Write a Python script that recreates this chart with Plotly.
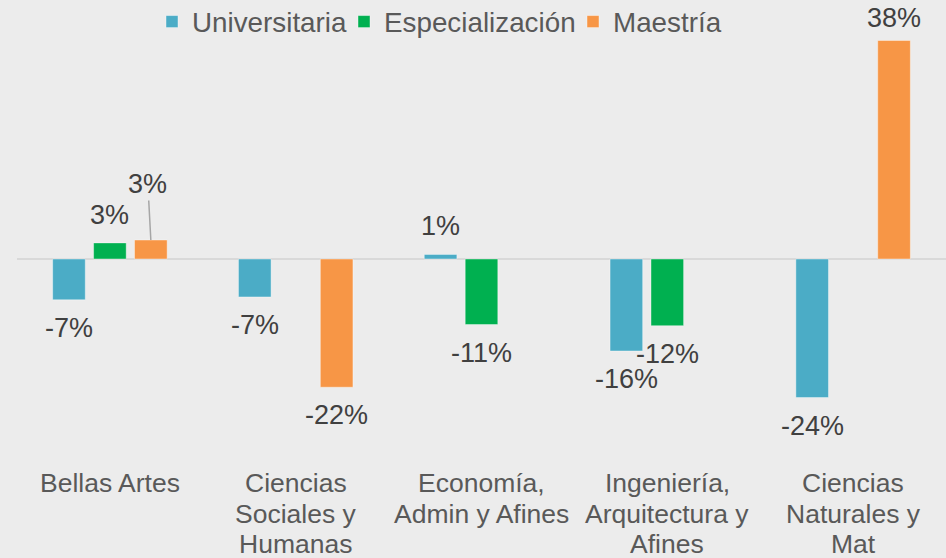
import plotly.graph_objects as go

categories = ["Bellas Artes", "Ciencias<br>Sociales y<br>Humanas", "Economía,<br>Admin y Afines",
              "Ingeniería,<br>Arquitectura y<br>Afines", "Ciencias<br>Naturales y<br>Mat"]
series_names = ["Universitaria", "Especialización", "Maestría"]
universitaria = [-7.1, -6.6, 0.8, -16.0, -24.1]
especializacion = [2.8, None, -11.4, -11.6, None]
maestria = [3.3, -22.3, None, None, 38.0]

series_values = [universitaria, especializacion, maestria]
colors = ["#4BACC6", "#00B050", "#F79646"]

FONT = "Liberation Sans, Arial, sans-serif"
BARGAP = 0.339
BARGROUPGAP = 0.203
slot = (1 - BARGAP) / len(series_names)
xs = list(range(len(categories)))

MARGIN_T, MARGIN_B = 10, 92
W, H = 946, 558

legend_keys = ["legend", "legend2", "legend3"]
legend_text_x = [193, 385, 614]  # px where each legend text begins
LEGEND_TEXT_OFFSET = 41

fig = go.Figure()
for name, vals, col, lk in zip(series_names, series_values, colors, legend_keys):
    fig.add_trace(go.Bar(x=xs, y=vals, name=name, legend=lk, hoverinfo="skip",
                         marker=dict(color=col, line=dict(width=1, color="rgba(255,255,255,0.4)"))))

# label placement overrides (series index, category index)
overrides = {
    (2, 0): dict(showarrow=True, ax=-3, ay=-56, arrowhead=0, arrowwidth=1.5, arrowcolor="#A6A6A6", standoff=0),
    (2, 4): dict(yshift=22),
}

annotations = []
for k, vals in enumerate(series_values):
    for i, v in enumerate(vals):
        if v is None:
            continue
        a = dict(x=i + (k - 1) * slot, y=v, xref="x", yref="y", text=f"{v:.0f}%",
                 showarrow=False, yshift=28 if v > 0 else -28,
                 font=dict(family=FONT, size=27, color="#404040"))
        if (k, i) in overrides:
            ov = overrides[(k, i)]
            if ov.get("showarrow"):
                a.pop("yshift")
            a.update(ov)
        annotations.append(a)

# category labels, one text per line (tighter line spacing than tick labels)
LINE_H = 30.7
FIRST_LINE = 17
for i, cat in enumerate(categories):
    for j, line in enumerate(cat.split("<br>")):
        annotations.append(dict(x=i, y=0, xref="x", yref="paper", text=line, showarrow=False,
                                xanchor="center", yanchor="middle",
                                yshift=-(FIRST_LINE + j * LINE_H),
                                font=dict(family=FONT, size=26.5, color="#595959")))

legend_common = dict(orientation="h", xref="container", yref="container",
                     y=1 - 22 / H, xanchor="left", yanchor="middle",
                     font=dict(family=FONT, size=27.8, color="#595959"),
                     bgcolor="rgba(0,0,0,0)", itemwidth=30)

fig.update_layout(
    width=W, height=H,
    margin=dict(l=17, r=0, t=MARGIN_T, b=MARGIN_B, autoexpand=False),
    paper_bgcolor="#ECECEC", plot_bgcolor="#ECECEC",
    barmode="group", bargap=BARGAP, bargroupgap=BARGROUPGAP,
    font=dict(family=FONT, color="#595959"),
    showlegend=True,
    legend=dict(legend_common, x=(legend_text_x[0] - LEGEND_TEXT_OFFSET) / W),
    legend2=dict(legend_common, x=(legend_text_x[1] - LEGEND_TEXT_OFFSET) / W),
    legend3=dict(legend_common, x=(legend_text_x[2] - LEGEND_TEXT_OFFSET) / W),
    xaxis=dict(range=[-0.5, 4.5], tickmode="array", tickvals=xs, ticktext=categories,
               showticklabels=False, showgrid=False, zeroline=False, showline=False, ticks="",
               automargin=False, fixedrange=True),
    yaxis=dict(range=[-36.0, 43.3], showgrid=False, showticklabels=False, ticks="",
               zeroline=True, zerolinecolor="#D9D9D9", zerolinewidth=2, showline=False,
               automargin=False, fixedrange=True),
    annotations=annotations,
)

fig.write_html("out.html", config={"displayModeBar": False},
               post_script="document.body.style.margin='0';document.body.style.background='#ECECEC';")
